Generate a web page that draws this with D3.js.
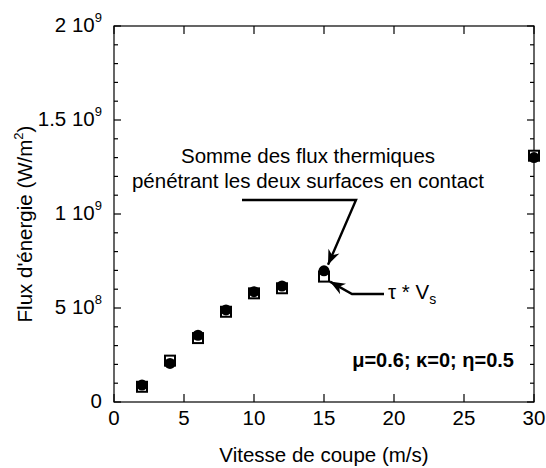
<!DOCTYPE html>
<html><head><meta charset="utf-8">
<script src="https://cdn.jsdelivr.net/npm/d3@7"></script>
<style>body{margin:0;background:#fff}svg{display:block;font-family:"Liberation Sans",Arial,sans-serif}</style>
</head><body>
<script>
const speeds = [2, 4, 6, 8, 10, 12, 15, 30];
const tauVs = [0.081e9, 0.220e9, 0.340e9, 0.480e9, 0.578e9, 0.605e9, 0.667e9, 1.310e9];
const sumFlux = [0.090e9, 0.205e9, 0.355e9, 0.490e9, 0.587e9, 0.617e9, 0.698e9, 1.300e9];
const xTicks = [0, 5, 10, 15, 20, 25, 30];
const yTicks = [0, 5e8, 1e9, 1.5e9, 2e9];
const yTickLabels = [["0", ""], ["5 10", "8"], ["1 10", "9"], ["1.5 10", "9"], ["2 10", "9"]];

const W = 546, H = 468;
const svg = d3.select("body").append("svg").attr("width", W).attr("height", H);
const x = d3.scaleLinear().domain([0, 30]).range([114, 534]);
const y = d3.scaleLinear().domain([0, 2e9]).range([402, 26]);
const L = 114, R = 534, T = 26, B = 402;
const fs = 20.5;

// frame
svg.append("rect").attr("x", L).attr("y", T).attr("width", R - L).attr("height", B - T)
  .attr("fill", "none").attr("stroke", "#000").attr("stroke-width", 1.2);

const ax = svg.append("g").attr("stroke", "#000").attr("stroke-width", 1.2);
xTicks.forEach(v => {
  ax.append("line").attr("x1", x(v)).attr("x2", x(v)).attr("y1", B).attr("y2", B - 8);
  ax.append("line").attr("x1", x(v)).attr("x2", x(v)).attr("y1", T).attr("y2", T + 8);
});
d3.range(0, 2e9 + 1, 1e8).forEach(v => {
  const major = Math.round(v / 1e8) % 5 === 0;
  const len = major ? 7 : 4;
  ax.append("line").attr("x1", L).attr("x2", L + len).attr("y1", y(v)).attr("y2", y(v));
  ax.append("line").attr("x1", R).attr("x2", R - len).attr("y1", y(v)).attr("y2", y(v));
});

svg.append("g").selectAll("text").data(xTicks).join("text")
  .attr("x", d => x(d)).attr("y", B + 18).attr("text-anchor", "middle")
  .attr("dominant-baseline", "middle").attr("font-size", fs).text(d => d);

yTicks.forEach((v, i) => {
  const [base, sup] = yTickLabels[i];
  const t = svg.append("text").attr("x", 102).attr("y", y(v) + 6).attr("text-anchor", "end")
    .attr("font-size", fs);
  t.append("tspan").text(base);
  if (sup) t.append("tspan").attr("font-size", 13).attr("dy", -10).text(sup);
});

svg.append("text").attr("x", (L + R) / 2).attr("y", 457).attr("text-anchor", "middle")
  .attr("dominant-baseline", "middle").attr("font-size", fs).text("Vitesse de coupe (m/s)");
const yt = svg.append("text").attr("transform", "translate(32,224) rotate(-90)")
  .attr("text-anchor", "middle").attr("font-size", fs);
yt.append("tspan").text("Flux d'énergie (W/m");
yt.append("tspan").attr("font-size", 13).attr("dy", -9).text("2");
yt.append("tspan").attr("dy", 9).text(")");

const pts = speeds.map((s, i) => ({ s, a: tauVs[i], b: sumFlux[i] }));
svg.append("g").selectAll("rect").data(pts).join("rect")
  .attr("x", d => x(d.s) - 5).attr("y", d => y(d.a) - 5).attr("width", 10).attr("height", 10)
  .attr("fill", "#fff").attr("stroke", "#000").attr("stroke-width", 2);
svg.append("g").selectAll("circle").data(pts).join("circle")
  .attr("cx", d => x(d.s)).attr("cy", d => y(d.b)).attr("r", 5.5).attr("fill", "#000");

svg.append("text").attr("x", 308).attr("y", 158).attr("text-anchor", "middle")
  .attr("dominant-baseline", "middle").attr("font-size", fs).text("Somme des flux thermiques");
svg.append("text").attr("x", 308).attr("y", 183).attr("text-anchor", "middle")
  .attr("dominant-baseline", "middle").attr("font-size", fs).text("pénétrant les deux surfaces en contact");

function arrow(points) {
  svg.append("path").attr("d", d3.line()(points)).attr("fill", "none")
    .attr("stroke", "#000").attr("stroke-width", 2.4);
  const [p, q] = points.slice(-2);
  const ang = Math.atan2(q[1] - p[1], q[0] - p[0]);
  const len = 15, wid = 6;
  const bx = q[0] - len * Math.cos(ang), by = q[1] - len * Math.sin(ang);
  const nx = -Math.sin(ang) * wid, ny = Math.cos(ang) * wid;
  svg.append("path").attr("d", `M${q[0]},${q[1]}L${bx + nx},${by + ny}L${bx + len*0.3*Math.cos(ang)},${by + len*0.3*Math.sin(ang)}L${bx - nx},${by - ny}Z`)
    .attr("fill", "#000");
}
const i15 = speeds.indexOf(15);
arrow([[242, 200], [356, 200], [x(15) + 4, y(sumFlux[i15]) - 6]]);
arrow([[384, 294], [352, 294], [x(15) + 6, y(tauVs[i15]) + 5]]);

const tv = svg.append("text").attr("x", 388).attr("y", 299).attr("font-size", fs);
tv.append("tspan").text("τ * V");
tv.append("tspan").attr("font-size", 14).attr("dy", 5).text("s");

svg.append("text").attr("x", 514).attr("y", 367).attr("text-anchor", "end")
  .attr("font-size", 20).attr("font-weight", "bold").text("μ=0.6; κ=0; η=0.5");
</script>
</body></html>
